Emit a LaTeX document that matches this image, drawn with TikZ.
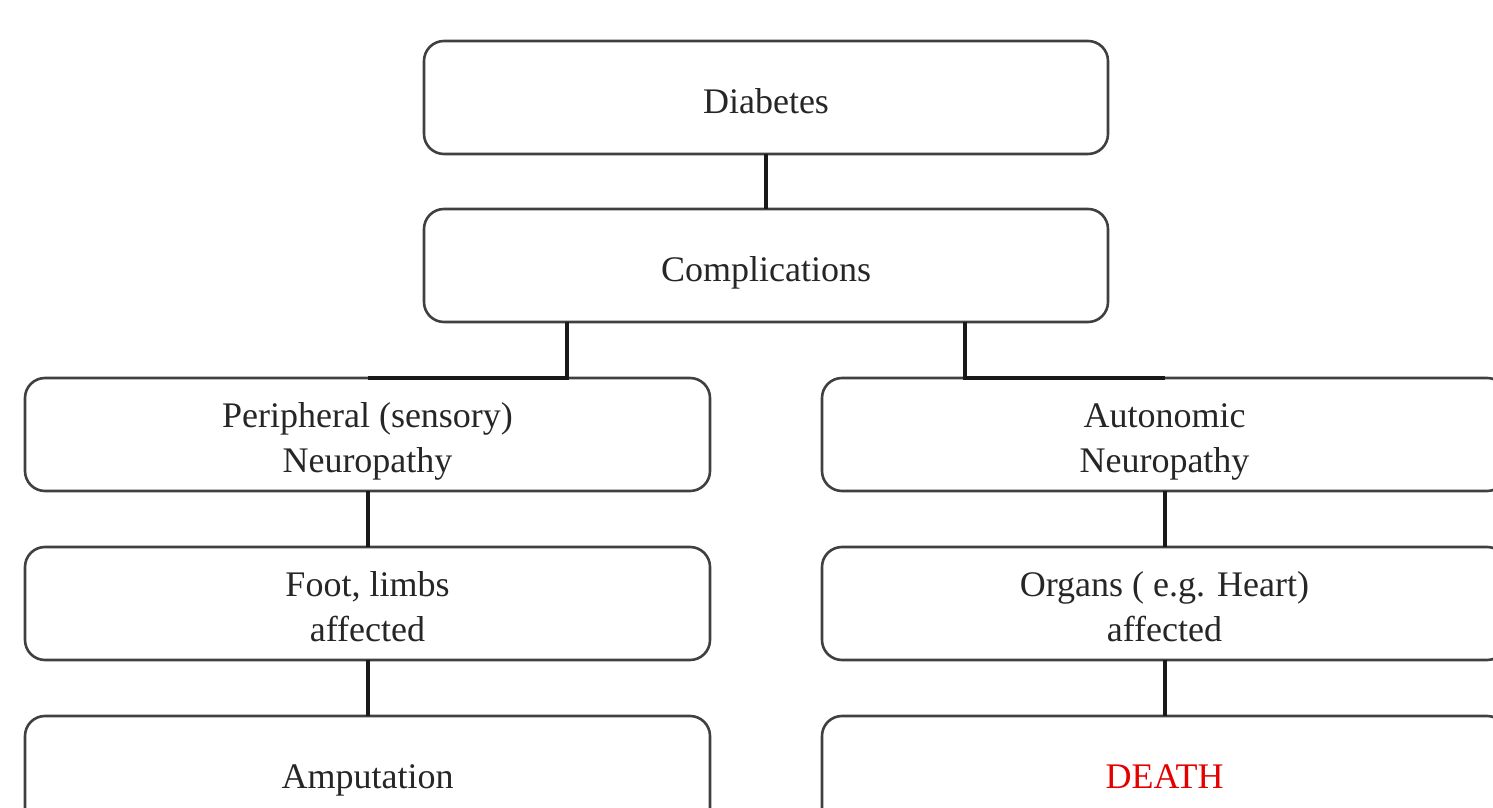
\documentclass[tikz,border=0pt]{standalone}
\usepackage{fontspec}
\setmainfont{Liberation Serif}
\usetikzlibrary{calc}
\newcommand{\boxtext}[1]{\raisebox{0pt}[\dimexpr\height+14pt\relax][\depth]{\begin{tabular}{@{}c@{}}#1\end{tabular}}}
\begin{document}
\begin{tikzpicture}[x=1pt,y=1pt,
  boxnode/.style={draw=black!75, line width=2.6pt, rounded corners=20pt, fill=white,
    minimum width=685pt, minimum height=113pt, inner sep=0pt, outer sep=0pt,
    align=center, font=\fontsize{36}{45}\selectfont, text=black!85},
  link/.style={draw=black!90, line width=4pt}]
\useasboundingbox (0,0) rectangle (1493,808);
\clip (0,0) rectangle (1493,808);
\node[boxnode, minimum width=684pt] (dia) at (766,710.5) {\boxtext{Diabetes}};
\node[boxnode, minimum width=684pt] (comp) at (766,542.5) {\boxtext{Complications}};
\node[boxnode] (per) at (367.5,373.5) {\boxtext{Peripheral (sensory)\\Neuropathy}};
\node[boxnode] (aut) at (1164.5,373.5) {\boxtext{Autonomic\\Neuropathy}};
\node[boxnode] (foot) at (367.5,204.5) {\boxtext{Foot, limbs\\affected}};
\node[boxnode] (org) at (1164.5,204.5) {\boxtext{Organs ( e.g. Heart)\\affected}};
\node[boxnode] (amp) at (367.5,35.5) {\boxtext{Amputation}};
\node[boxnode, text=red!90!black] (death) at (1164.5,35.5) {\boxtext{DEATH}};
\draw[link] (dia.south) -- (comp.north);
\draw[link] ($(comp.south)+(-199,0)$) |- (per.north);
\draw[link] ($(comp.south)+(199,0)$) |- (aut.north);
\draw[link] (per.south) -- (foot.north);
\draw[link] (foot.south) -- (amp.north);
\draw[link] (aut.south) -- (org.north);
\draw[link] (org.south) -- (death.north);
\end{tikzpicture}
\end{document}
